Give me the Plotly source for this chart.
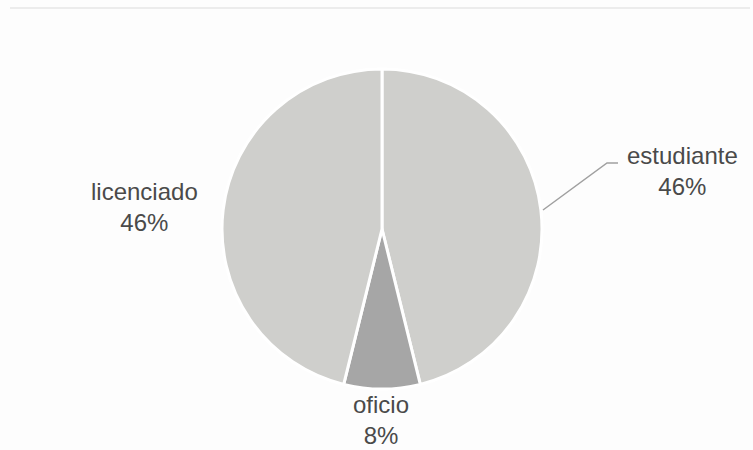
import plotly.graph_objects as go

labels = ["estudiante", "oficio", "licenciado"]
values = [6, 1, 6]
colors = ["#cfcfcc", "#a6a6a6", "#cfcfcc"]

W, H = 753, 450
total = sum(values)
pcts = [round(v / total * 100) for v in values]

# label anchor positions (pixels) for the outside labels
label_pos = {"estudiante": (682, 171), "oficio": (381, 420), "licenciado": (144, 207)}

fig = go.Figure(go.Pie(
    labels=labels, values=values, sort=False, direction="clockwise", rotation=0,
    marker=dict(colors=colors, line=dict(color="white", width=3)),
    textinfo="none", hoverinfo="label+percent", showlegend=False,
    domain=dict(x=[(382 - 160) / W, (382 + 160) / W], y=[(221 - 160) / H, (221 + 160) / H]),
))

for lab, p in zip(labels, pcts):
    x, y = label_pos[lab]
    fig.add_annotation(x=x / W, y=1 - y / H, xref="paper", yref="paper",
                       text=f"{lab}<br>{p}%", showarrow=False,
                       font=dict(family="Liberation Sans, Arial", size=24, color="#4a4a4a"),
                       xanchor="center", yanchor="middle", align="center")

# leader line for estudiante
pts = [(543, 210), (607, 163), (618, 163)]
path = "M " + " L ".join(f"{px / W},{1 - py / H}" for px, py in pts)
fig.add_shape(type="path", path=path, xref="paper", yref="paper",
              line=dict(color="#a0a0a0", width=1.5))
# faint top frame line
fig.add_shape(type="line", x0=10 / W, x1=750 / W, y0=1 - 8 / H, y1=1 - 8 / H,
              xref="paper", yref="paper", line=dict(color="#ececec", width=2))

fig.update_layout(width=W, height=H, margin=dict(l=0, r=0, t=0, b=0),
                  paper_bgcolor="#fdfdfd", plot_bgcolor="#fdfdfd")
fig.write_html("out.html", config={"displayModeBar": False},
               post_script="document.body.style.margin='0';document.body.style.overflow='hidden';")
